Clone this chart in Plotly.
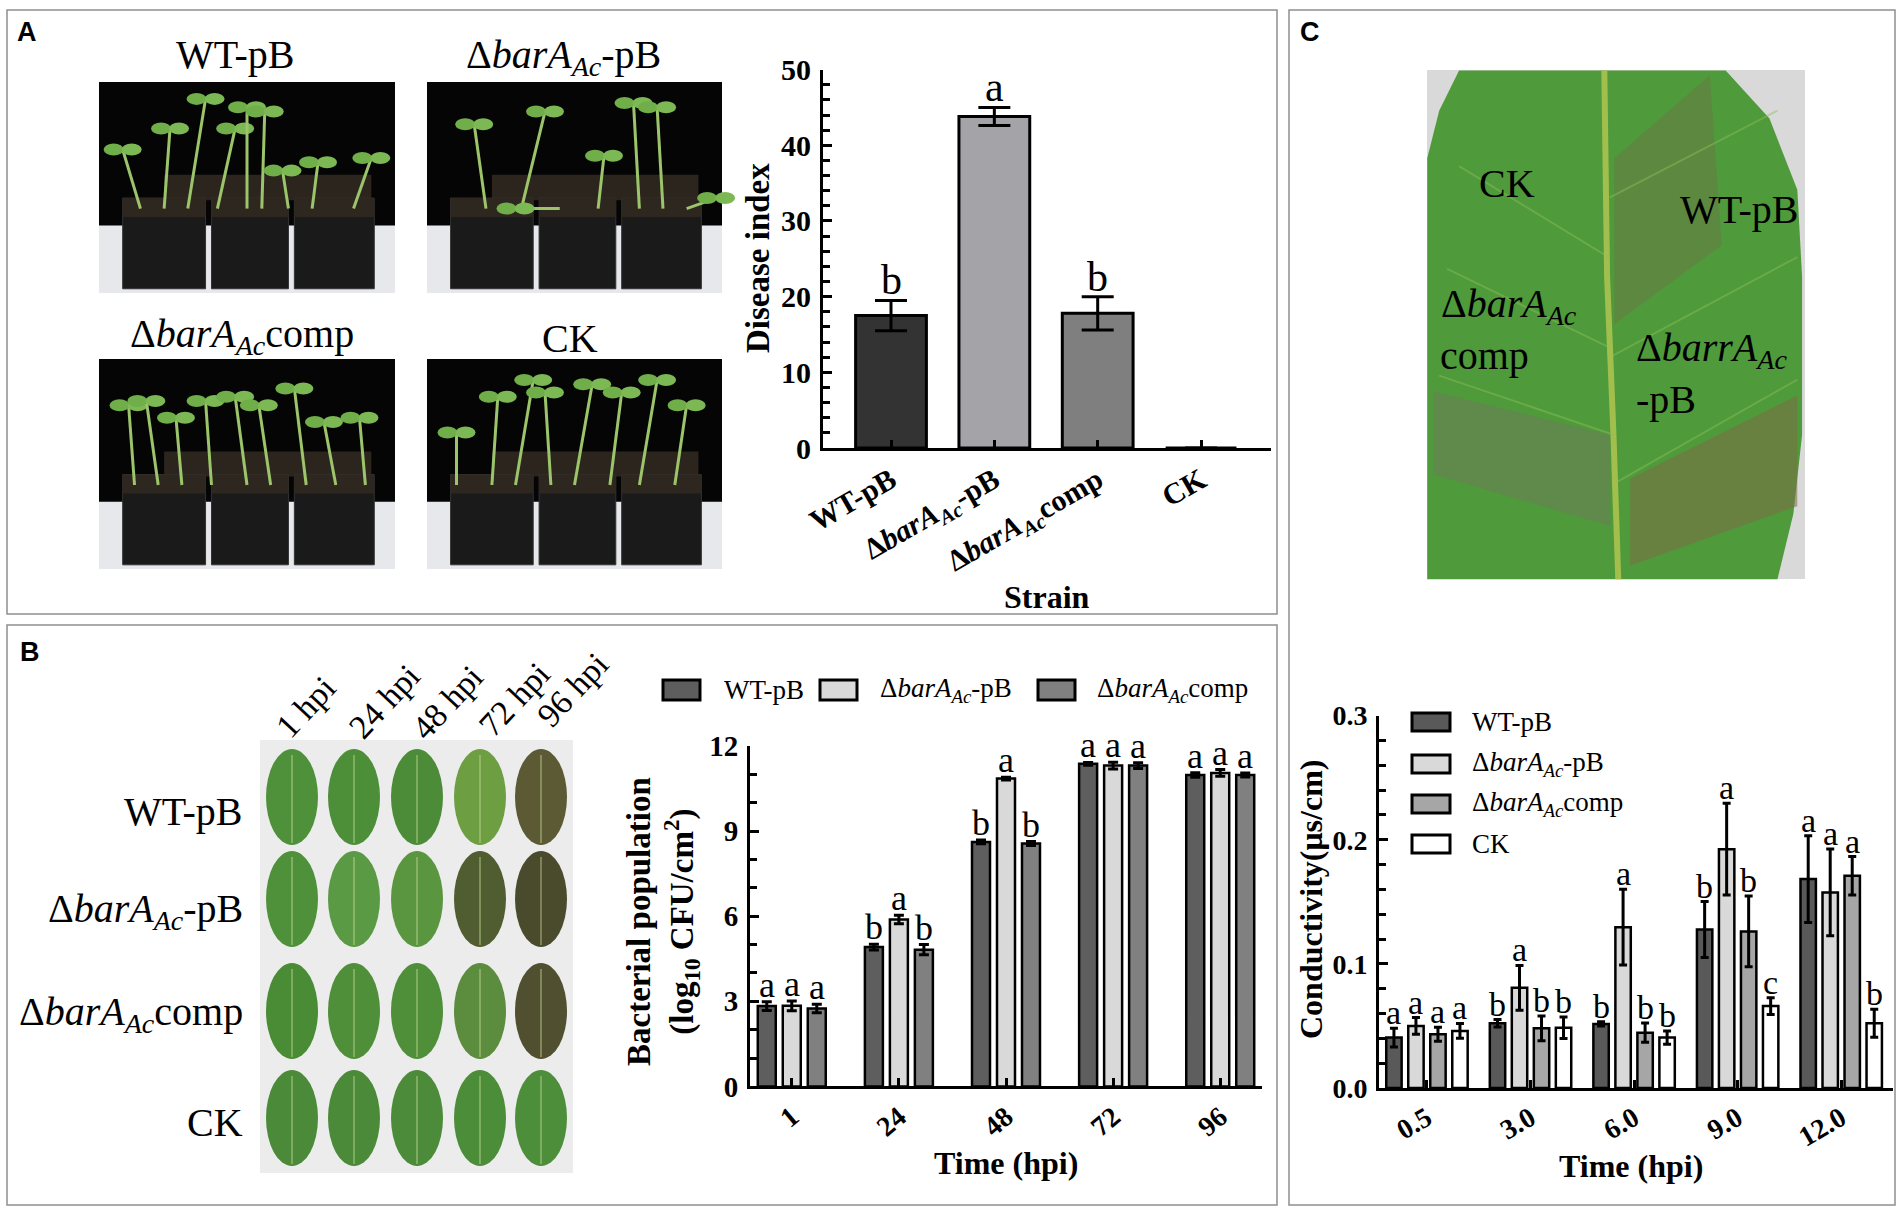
import plotly.graph_objects as go

W, H = 1904, 1212
SERIF = "Liberation Serif"
SANS = "Liberation Sans"

MUT = "Δ<i>barA</i><sub><i>Ac</i></sub>-pB"
COMP = "Δ<i>barA</i><sub><i>Ac</i></sub>comp"

# ---- panel A: disease index ----
strains_a = ["WT-pB", MUT, COMP, "CK"]
disease_index = [17.5, 43.8, 17.8, 0.0]
disease_err = [2.0, 1.2, 2.2, 0.0]
disease_letters = ["b", "a", "b", ""]
colors_a = ["#333333", "#a4a4a8", "#7f7f7f", "#ffffff"]

# ---- panel B: bacterial population ----
hpi_b = ["1", "24", "48", "72", "96"]
names_b = ["WT-pB", MUT, COMP]
pop_wt = [2.83, 4.91, 8.62, 11.37, 10.98]
pop_mut = [2.84, 5.88, 10.85, 11.31, 11.05]
pop_comp = [2.75, 4.82, 8.56, 11.31, 10.98]
pop_wt_err = [0.15, 0.10, 0.07, 0.05, 0.08]
pop_mut_err = [0.17, 0.15, 0.05, 0.12, 0.12]
pop_comp_err = [0.15, 0.18, 0.07, 0.10, 0.07]
let_wt_b = ["a", "b", "b", "a", "a"]
let_mut_b = ["a", "a", "a", "a", "a"]
let_comp_b = ["a", "b", "b", "a", "a"]
colors_b = ["#5e5e5e", "#d9d9d9", "#808080"]

# ---- panel C: conductivity ----
hpi_c = ["0.5", "3.0", "6.0", "9.0", "12.0"]
names_c = ["WT-pB", MUT, COMP, "CK"]
cond_wt = [0.0406, 0.0521, 0.0516, 0.1277, 0.1683]
cond_mut = [0.0500, 0.0807, 0.1296, 0.1924, 0.1576]
cond_comp = [0.0433, 0.0481, 0.0446, 0.1261, 0.1710]
cond_ck = [0.0460, 0.0486, 0.0406, 0.0660, 0.0521]
cond_wt_err = [0.0076, 0.0030, 0.0017, 0.0225, 0.0350]
cond_mut_err = [0.0067, 0.0180, 0.0306, 0.0370, 0.0350]
cond_comp_err = [0.0056, 0.0100, 0.0077, 0.0285, 0.0155]
cond_ck_err = [0.0060, 0.0087, 0.0053, 0.0067, 0.0113]
let_wt_c = ["a", "b", "b", "b", "a"]
let_mut_c = ["a", "a", "a", "a", "a"]
let_comp_c = ["a", "b", "b", "b", "a"]
let_ck_c = ["a", "b", "b", "c", "b"]
colors_c = ["#595959", "#d9d9d9", "#a6a6a6", "#ffffff"]

# photo labels
leaf_rows = ["WT-pB", MUT, COMP, "CK"]
leaf_cols = ["1 hpi", "24 hpi", "48 hpi", "72 hpi", "96 hpi"]


def px(x, y):
    return x / W, 1 - y / H


shapes = []
annotations = []


def rect(x0, y0, x1, y1, fill, line="rgba(0,0,0,0)", lw=0):
    a, b = px(x0, y0)
    c, d = px(x1, y1)
    shapes.append(dict(type="rect", xref="paper", yref="paper", x0=a, y0=d, x1=c, y1=b,
                       fillcolor=fill, line=dict(color=line, width=lw), layer="below"))


def ellipse(cx, cy, w, h, fill, line="rgba(0,0,0,0)", lw=0):
    a, b = px(cx - w / 2, cy - h / 2)
    c, d = px(cx + w / 2, cy + h / 2)
    shapes.append(dict(type="circle", xref="paper", yref="paper", x0=a, y0=d, x1=c, y1=b,
                       fillcolor=fill, line=dict(color=line, width=lw), layer="below"))


def poly(pts, fill, line="rgba(0,0,0,0)", lw=0, closed=True):
    parts = []
    for i, (x, y) in enumerate(pts):
        u, v = px(x, y)
        parts.append(("M" if i == 0 else "L") + f"{u:.5f},{v:.5f}")
    path = " ".join(parts) + (" Z" if closed else "")
    shapes.append(dict(type="path", xref="paper", yref="paper", path=path,
                       fillcolor=fill if closed else None, line=dict(color=line, width=lw), layer="below"))


def text(x, y, s, size, bold=False, angle=0, xanchor="center", yanchor="middle", family=SERIF, color="black"):
    u, v = px(x, y)
    annotations.append(dict(xref="paper", yref="paper", x=u, y=v, text=s, showarrow=False,
                            textangle=angle, xanchor=xanchor, yanchor=yanchor,
                            font=dict(family=family, size=size, color=color,
                                      weight="bold" if bold else "normal")))


def letter(xref, yref, x, y, s, size):
    annotations.append(dict(xref=xref, yref=yref, x=x, y=y, text=s, showarrow=False,
                            yanchor="bottom", yshift=-5,
                            font=dict(family=SERIF, size=size, color="black")))


# panel frames
rect(7, 10, 1277, 614, "rgba(0,0,0,0)", "#8f8f8f", 1.5)
rect(7, 625, 1277, 1205, "rgba(0,0,0,0)", "#8f8f8f", 1.5)
rect(1289, 10, 1895, 1205, "rgba(0,0,0,0)", "#8f8f8f", 1.5)
text(27, 32, "A", 27, True, family=SANS)
text(30, 652, "B", 27, True, family=SANS)
text(1310, 32, "C", 27, True, family=SANS)

# ---- panel A seedling photos (placeholders) ----
plants = [
    [(0.14, 0.08, 0.32), (0.22, 0.24, 0.22), (0.30, 0.36, 0.08), (0.40, 0.46, 0.22),
     (0.50, 0.50, 0.12), (0.55, 0.56, 0.14), (0.64, 0.62, 0.42), (0.72, 0.74, 0.38), (0.86, 0.92, 0.36)],
    [(0.20, 0.16, 0.20), (0.32, 0.40, 0.14), (0.45, 0.30, 0.60), (0.58, 0.60, 0.35),
     (0.72, 0.70, 0.10), (0.80, 0.78, 0.12), (0.88, 0.98, 0.55)],
    [(0.12, 0.10, 0.22), (0.20, 0.16, 0.20), (0.28, 0.26, 0.28), (0.38, 0.36, 0.20),
     (0.50, 0.46, 0.18), (0.58, 0.54, 0.22), (0.70, 0.66, 0.14), (0.80, 0.76, 0.30), (0.90, 0.88, 0.28)],
    [(0.10, 0.10, 0.35), (0.22, 0.24, 0.18), (0.30, 0.36, 0.10), (0.42, 0.40, 0.16),
     (0.50, 0.56, 0.12), (0.62, 0.66, 0.16), (0.72, 0.78, 0.10), (0.84, 0.88, 0.22)],
]
photo_boxes = [(99, 82, 395, 293), (427, 82, 722, 293), (99, 359, 395, 569), (427, 359, 722, 569)]
photo_titles = [(235, 55), (563, 57), (242, 336), (570, 338)]
for (x0, y0, x1, y1), stems, (tx, ty), label in zip(photo_boxes, plants, photo_titles, strains_a):
    w, h = x1 - x0, y1 - y0
    rect(x0, y0, x1, y1, "#050505")
    rect(x0, y0 + 0.68 * h, x1, y1, "#e6e8ec")
    rect(x0 + 0.22 * w, y0 + 0.44 * h, x0 + 0.92 * w, y0 + 0.56 * h, "#2b251e")
    for a, b in [(0.08, 0.36), (0.38, 0.64), (0.66, 0.93)]:
        rect(x0 + a * w, y0 + 0.55 * h, x0 + b * w, y0 + 0.98 * h, "#1a1a1a", "#333333", 1)
        rect(x0 + a * w, y0 + 0.55 * h, x0 + b * w, y0 + 0.64 * h, "#2e271f")
    for bx, tx_, ty_ in stems:
        poly([(x0 + bx * w, y0 + 0.60 * h), (x0 + tx_ * w, y0 + ty_ * h)], None, "#9cc46a", 3, closed=False)
        ellipse(x0 + tx_ * w - 9, y0 + ty_ * h, 20, 12, "#6fae48")
        ellipse(x0 + tx_ * w + 9, y0 + ty_ * h, 20, 12, "#7cb854")
    text(tx, ty, label, 40)

# ---- panel B leaf grid (placeholders) ----
leaf_colors = [
    ["#4f913b", "#4d8e39", "#4c8c38", "#6d9e42", "#5c5a34"],
    ["#4f913b", "#5a9a44", "#5a9640", "#4f5d30", "#4a4a2c"],
    ["#4a8c36", "#4f8f3a", "#4f8f3a", "#5c8c3e", "#505030"],
    ["#4a8a38", "#4a8a38", "#4c8b39", "#4c8d39", "#4d8e3a"],
]
col_x = [292, 354, 417, 480, 541]
row_y = [797, 899, 1011, 1118]
rect(260, 740, 573, 1173, "#ececec")
for r, cy in enumerate(row_y):
    for c, cx in enumerate(col_x):
        ellipse(cx, cy, 52, 96, leaf_colors[r][c])
        poly([(cx, cy - 42), (cx, cy + 46)], None, "rgba(200,220,150,0.55)", 1.5, closed=False)
row_label_y = [811, 911, 1014, 1122]
for lab, ly in zip(leaf_rows, row_label_y):
    text(245, ly, lab, 40, xanchor="right")
col_label_pos = [(305, 707), (384, 701), (447, 702), (514, 699), (573, 690)]
for lab, (lx, ly) in zip(leaf_cols, col_label_pos):
    text(lx, ly, lab, 34, angle=-47)


# ---- panel C leaf photo (placeholder) ----
def lp(zx, zy):
    return 1280 + zx / 2.513, zy / 2.529


rect(1427, 70, 1805, 579, "#d9d9d9")
poly([lp(*p) for p in [(450, 178), (1120, 178), (1230, 300), (1300, 480), (1312, 700), (1312, 1100),
                       (1290, 1300), (1250, 1465), (370, 1465), (370, 400), (400, 280)]], "#4f9a3a")
poly([lp(*p) for p in [(840, 400), (1080, 190), (1110, 620), (840, 820)]], "rgba(110,115,70,0.45)")
poly([lp(*p) for p in [(880, 1210), (1300, 1000), (1300, 1280), (880, 1430)]], "rgba(125,110,70,0.55)")
poly([lp(*p) for p in [(385, 990), (830, 1100), (830, 1330), (385, 1200)]], "rgba(110,125,90,0.55)")
poly([lp(*p) for p in [(815, 178), (822, 700), (838, 1100), (850, 1465)]], None, "#a2bf4e", 6, closed=False)
for p0, p1 in [((825, 650), (450, 420)), ((830, 880), (420, 680)), ((840, 1100), (400, 950)),
               ((828, 500), (1250, 280)), ((835, 900), (1300, 650)), ((845, 1220), (1300, 960))]:
    poly([lp(*p0), lp(*p1)], None, "rgba(140,190,90,0.45)", 2, closed=False)
for (zx, zy), lab in [((570, 465), "CK"), ((1155, 530), "WT-pB"), ((575, 775), "Δ<i>barA</i><sub><i>Ac</i></sub>"),
                      ((515, 900), "comp"), ((1085, 885), "Δ<i>barrA</i><sub><i>Ac</i></sub>"), ((970, 1010), "-pB")]:
    x, y = lp(zx, zy)
    text(x, y, lab, 40)

fig = go.Figure()

# ---- panel A bars ----
wa = 0.685
fig.add_trace(go.Bar(
    x=list(range(len(strains_a))), y=disease_index, width=wa, offset=-wa / 2,
    marker=dict(color=colors_a, line=dict(color="black", width=3)),
    error_y=dict(type="data", array=disease_err, color="black", thickness=3, width=16),
    xaxis="x", yaxis="y", showlegend=False,
))
for i, (v, e, lab) in enumerate(zip(disease_index, disease_err, disease_letters)):
    if lab:
        letter("x", "y", i, v + e, lab, 42)

# ---- panel B grouped bars ----
nb, gap_b, ggap_b = 3, 0.30, 0.28
slot_b = (1 - gap_b) / nb
wb = slot_b * (1 - ggap_b)
for k, (vals, errs, lets, col) in enumerate(zip([pop_wt, pop_mut, pop_comp],
                                                [pop_wt_err, pop_mut_err, pop_comp_err],
                                                [let_wt_b, let_mut_b, let_comp_b], colors_b)):
    off = -(1 - gap_b) / 2 + slot_b * (k + 0.5)
    fig.add_trace(go.Bar(
        x=list(range(len(hpi_b))), y=vals, width=wb, offset=off - wb / 2,
        marker=dict(color=col, line=dict(color="black", width=2.5)),
        error_y=dict(type="data", array=errs, color="black", thickness=3, width=5),
        xaxis="x2", yaxis="y2", showlegend=False,
    ))
    for i, (v, e, lab) in enumerate(zip(vals, errs, lets)):
        letter("x2", "y2", i + off, v + e, lab, 36)

# ---- panel C grouped bars ----
nc, gap_c, ggap_c = 4, 0.15, 0.30
slot_c = (1 - gap_c) / nc
wc = slot_c * (1 - ggap_c)
for k, (vals, errs, lets, col) in enumerate(zip([cond_wt, cond_mut, cond_comp, cond_ck],
                                                [cond_wt_err, cond_mut_err, cond_comp_err, cond_ck_err],
                                                [let_wt_c, let_mut_c, let_comp_c, let_ck_c], colors_c)):
    off = -(1 - gap_c) / 2 + slot_c * (k + 0.5)
    fig.add_trace(go.Bar(
        x=list(range(len(hpi_c))), y=vals, width=wc, offset=off - wc / 2,
        marker=dict(color=col, line=dict(color="black", width=2.5)),
        error_y=dict(type="data", array=errs, color="black", thickness=3, width=4),
        xaxis="x3", yaxis="y3", showlegend=False,
    ))
    for i, (v, e, lab) in enumerate(zip(vals, errs, lets)):
        letter("x3", "y3", i + off, v + e, lab, 34)

# manual legends (large boxes as in the original)
for (bx, tx), name, col in zip([(663, 722), (820, 878), (1038, 1095)], names_b, colors_b):
    rect(bx, 680, bx + 37, 700, col, "black", 3)
    text(tx, 690, name, 27, xanchor="left")
for ly, name, col in zip([722, 764, 804, 844], names_c, colors_c):
    rect(1412, ly - 9, 1450, ly + 9, col, "black", 3)
    text(1470, ly, name, 27, xanchor="left")

# axis titles
text(758, 258, "Disease index", 33, True, angle=-90)
text(1047, 597, "Strain", 32, True)
text(663, 922, "Bacterial population<br>(log<sub>10</sub> CFU/cm<sup>2</sup>)", 33, True, angle=-90)
text(1006, 1163, "Time (hpi)", 32, True)
text(1311, 900, "Conductivity(μs/cm)", 32, True, angle=-90)
text(1631, 1166, "Time (hpi)", 32, True)


def xax(dom, rng, ticktext, angle, size):
    return dict(domain=dom, range=rng, tickmode="array", tickvals=list(range(len(ticktext))),
                ticktext=ticktext, tickangle=angle, showline=True, linecolor="black", linewidth=3,
                ticks="inside", ticklen=8, tickwidth=3, tickcolor="black", showgrid=False, zeroline=False,
                automargin=False,
                tickfont=dict(family=SERIF, size=size, color="black", weight="bold"), fixedrange=True)


def yax(dom, rng, dtick, minor, size, fmt=None):
    d = dict(domain=dom, range=rng, dtick=dtick, tick0=0, showline=True, linecolor="black", linewidth=3,
             ticks="inside", ticklen=9, tickwidth=3, tickcolor="black", showgrid=False, zeroline=False,
             ticklabelstandoff=3, automargin=False,
             minor=dict(dtick=minor, ticks="inside", ticklen=7, tickwidth=2.5, tickcolor="black", showgrid=False),
             tickfont=dict(family=SERIF, size=size, color="black", weight="bold"), fixedrange=True)
    if fmt:
        d["tickformat"] = fmt
    return d


fig.update_layout(
    width=W, height=H, autosize=False,
    margin=dict(l=0, r=0, t=0, b=0, pad=0, autoexpand=False),
    paper_bgcolor="white", plot_bgcolor="rgba(0,0,0,0)",
    barmode="overlay", showlegend=False,
    xaxis=dict(xax([823 / W, 1271 / W], [-0.658, 3.677], strains_a, -30, 30), anchor="y"),
    yaxis=dict(yax([1 - 448 / H, 1 - 69.6 / H], [0, 50], 10, 2, 30), anchor="x"),
    xaxis2=dict(xax([750 / W, 1262 / W], [-0.39, 4.39], hpi_b, -40, 28), anchor="y2"),
    yaxis2=dict(yax([1 - 1086.4 / H, 1 - 746 / H], [0, 12], 3, 1, 29), anchor="x2"),
    xaxis3=dict(xax([1379 / W, 1893 / W], [-0.463, 4.5], hpi_c, -30, 28), anchor="y3"),
    yaxis3=dict(yax([1 - 1088 / H, 1 - 715.5 / H], [0, 0.3001], 0.1, 0.02, 28, ".1f"), anchor="x3"),
    shapes=shapes, annotations=annotations,
)

fig.write_html("out.html", config={"displayModeBar": False},
               post_script="document.body.style.margin='0px';document.body.style.overflow='hidden';")
